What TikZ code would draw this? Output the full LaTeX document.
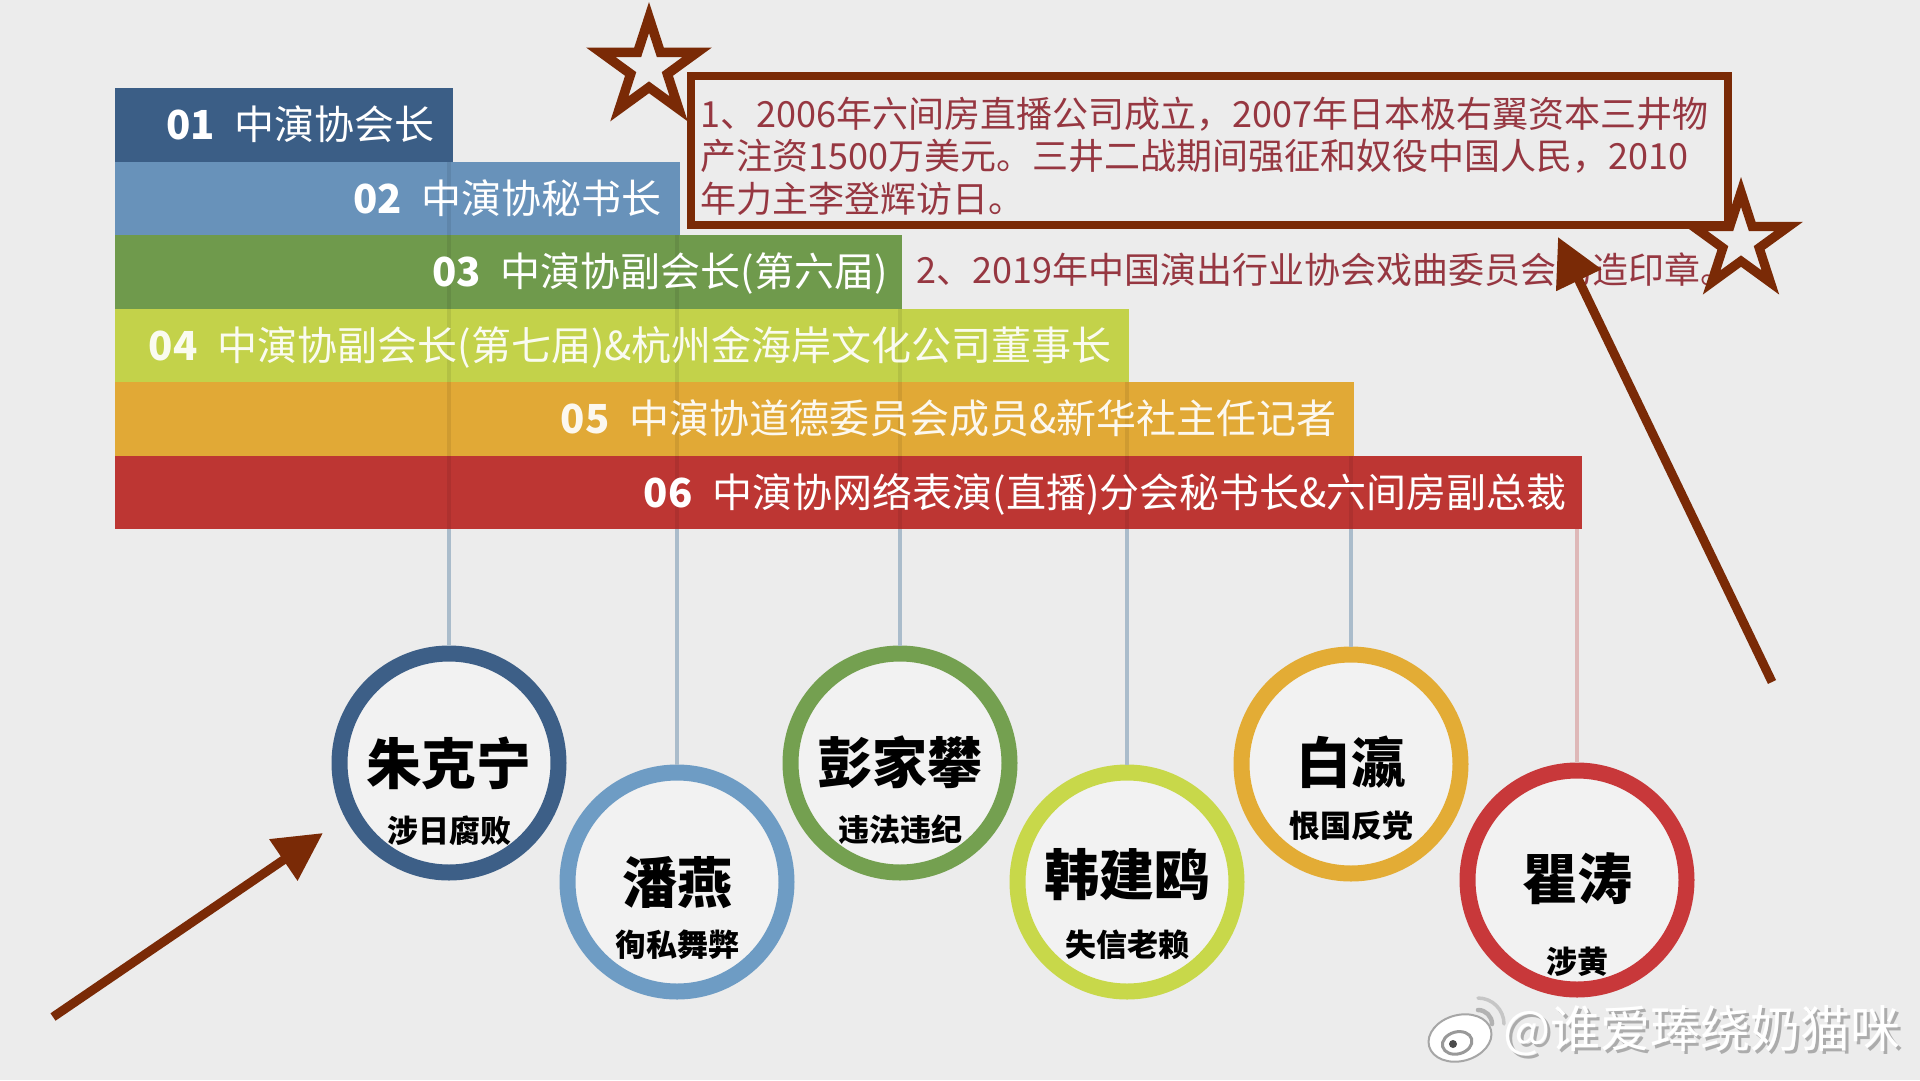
\documentclass[tikz,border=0pt]{standalone}
\usepackage{fontspec}
\setmainfont{Noto Sans CJK SC}
\usetikzlibrary{arrows.meta}
\definecolor{bg}{RGB}{236,236,236}
\definecolor{innerbg}{RGB}{242,242,242}
\definecolor{col1}{RGB}{59,94,134}
\definecolor{col2}{RGB}{104,146,186}
\definecolor{col3}{RGB}{111,154,76}
\definecolor{col4}{RGB}{195,210,74}
\definecolor{col5}{RGB}{225,169,54}
\definecolor{col6}{RGB}{189,54,51}
\definecolor{ring1}{RGB}{61,95,135}
\definecolor{ring2}{RGB}{110,156,196}
\definecolor{ring3}{RGB}{116,160,80}
\definecolor{ring4}{RGB}{200,216,74}
\definecolor{ring5}{RGB}{227,172,53}
\definecolor{ring6}{RGB}{200,56,58}
\definecolor{brn}{RGB}{122,42,6}
\definecolor{txtred}{RGB}{150,55,65}
\definecolor{vlinec}{RGB}{170,188,203}
\definecolor{vlinesix}{RGB}{222,184,184}
\begin{document}
\begin{tikzpicture}[x=1pt,y=-1pt,
  bar/.style={anchor=north west, inner sep=0pt, outer sep=0pt, minimum height=73.5pt, draw=none},
  bartext/.style={anchor=base east, text=white, inner sep=0pt, font=\fontsize{40}{46}\selectfont},
  ring/.style={circle, line width=16pt, fill=innerbg, minimum size=219pt, inner sep=0pt},
  pname/.style={anchor=base, text=black, inner sep=0pt, font=\fontsize{55}{60}\selectfont\bfseries},
  psub/.style={anchor=base, text=black, inner sep=0pt, font=\fontsize{31}{36}\selectfont\bfseries},
  inbar/.style={line width=4pt, black, opacity=0.08},
  vline/.style={line width=4.5pt, vlinec},
  boxtext/.style={anchor=base west, text=txtred, inner sep=0pt, font=\fontsize{36}{43}\selectfont},
  bigarrow/.style={line width=9pt, brn, -{Triangle[length=48pt,width=48pt]}},
  wm/.style={anchor=west, inner sep=0pt, font=\fontsize{50}{56}\selectfont}
]
\useasboundingbox (0,0) rectangle (1920,1080);
\fill[bg] (0,0) rectangle (1920,1080);

% bars
\node[bar, fill=col1, minimum width=338pt] (bar1) at (115,88) {};
\node[bar, fill=col2, minimum width=565pt] (bar2) at (115,161.5) {};
\node[bar, fill=col3, minimum width=787pt] (bar3) at (115,235) {};
\node[bar, fill=col4, minimum width=1014pt] (bar4) at (115,308.5) {};
\node[bar, fill=col5, minimum width=1239pt] (bar5) at (115,382) {};
\node[bar, fill=col6, minimum width=1467pt] (bar6) at (115,455.5) {};

% circles
\node[ring, draw=ring1] (c1) at (449,763) {};
\node[ring, draw=ring2] (c2) at (677,882) {};
\node[ring, draw=ring3] (c3) at (900,763) {};
\node[ring, draw=ring4] (c4) at (1127,882) {};
\node[ring, draw=ring5] (c5) at (1351,764) {};
\node[ring, draw=ring6] (c6) at (1577,880) {};

% hanging lines
\draw[inbar] (c1.north |- bar1.south) -- (c1.north |- bar6.south);
\draw[inbar] (c2.north |- bar2.south) -- (c2.north |- bar6.south);
\draw[inbar] (c3.north |- bar3.south) -- (c3.north |- bar6.south);
\draw[inbar] (c4.north |- bar4.south) -- (c4.north |- bar6.south);
\draw[inbar] (c5.north |- bar5.south) -- (c5.north |- bar6.south);
\draw[vline] (c1.north |- bar6.south) -- (c1.north);
\draw[vline] (c2.north |- bar6.south) -- (c2.north);
\draw[vline] (c3.north |- bar6.south) -- (c3.north);
\draw[vline] (c4.north |- bar6.south) -- (c4.north);
\draw[vline] (c5.north |- bar6.south) -- (c5.north);
\draw[vline, vlinesix] (c6.north |- bar6.south) -- (c6.north);

% bar texts
\node[bartext] (t1) at ([xshift=-18pt,yshift=-15pt]bar1.east) {{\bfseries 01}\hspace{0.5em}中演协会长};
\node[bartext] (t2) at ([xshift=-18pt,yshift=-15pt]bar2.east) {{\bfseries 02}\hspace{0.5em}中演协秘书长};
\node[bartext] (t3) at ([xshift=-14pt,yshift=-15pt]bar3.east) {{\bfseries 03}\hspace{0.5em}中演协副会长(第六届)};
\node[bartext, opacity=0.92] (t4) at ([xshift=-17pt,yshift=-15pt]bar4.east) {{\bfseries 04}\hspace{0.5em}中演协副会长(第七届)\&杭州金海岸文化公司董事长};
\node[bartext, opacity=0.92] (t5) at ([xshift=-17pt,yshift=-15pt]bar5.east) {{\bfseries 05}\hspace{0.5em}中演协道德委员会成员\&新华社主任记者};
\node[bartext] (t6) at ([xshift=-15pt,yshift=-15pt]bar6.east) {{\bfseries 06}\hspace{0.5em}中演协网络表演(直播)分会秘书长\&六间房副总裁};

% circle texts
\node[pname] (n1) at (449,784) {朱克宁};
\node[psub]  (s1) at (449,842) {涉日腐败};
\node[pname] (n2) at (677,903) {潘燕};
\node[psub]  (s2) at (677,956) {徇私舞弊};
\node[pname] (n3) at (900,783) {彭家攀};
\node[psub]  (s3) at (900,841) {违法违纪};
\node[pname] (n4) at (1127,895) {韩建鸥};
\node[psub]  (s4) at (1127,956) {失信老赖};
\node[pname] (n5) at (1351,783) {白瀛};
\node[psub]  (s5) at (1351,837) {恨国反党};
\node[pname] (n6) at (1577,899) {瞿涛};
\node[psub]  (s6) at (1577,973) {涉黄};

% star 1 (behind the box)
\fill[brn, even odd rule, shift={(649,68)}]
  (90:66pt) -- (126:25.2pt) -- (162:66pt) -- (198:25.2pt) -- (234:66pt) -- (270:25.2pt) -- (306:66pt) -- (342:25.2pt) -- (18:66pt) -- (54:25.2pt) -- cycle
  (90:35pt) -- (126:13.4pt) -- (162:35pt) -- (198:13.4pt) -- (234:35pt) -- (270:13.4pt) -- (306:35pt) -- (342:13.4pt) -- (18:35pt) -- (54:13.4pt) -- cycle;

% text box
\node[draw=brn, line width=8pt, fill=bg, minimum width=1037pt, minimum height=149pt, anchor=north west, inner sep=0pt] (box) at (687,72) {};
\node[boxtext] (bt1) at (700,127) {1、2006年六间房直播公司成立，2007年日本极右翼资本三井物};
\node[boxtext] (bt2) at (700,169.5) {产注资1500万美元。三井二战期间强征和奴役中国人民，2010};
\node[boxtext] (bt3) at (700,212) {年力主李登辉访日。};
\node[boxtext] (bt4) at (916,283) {2、2019年中国演出行业协会戏曲委员会伪造印章。};

% star 2
\fill[brn, even odd rule, shift={(1741,242)}]
  (90:65pt) -- (126:24.8pt) -- (162:65pt) -- (198:24.8pt) -- (234:65pt) -- (270:24.8pt) -- (306:65pt) -- (342:24.8pt) -- (18:65pt) -- (54:24.8pt) -- cycle
  (90:35pt) -- (126:13.4pt) -- (162:35pt) -- (198:13.4pt) -- (234:35pt) -- (270:13.4pt) -- (306:35pt) -- (342:13.4pt) -- (18:35pt) -- (54:13.4pt) -- cycle;

% arrows
\coordinate (a1s) at (53,1017);
\coordinate (a1e) at (323,833);
\draw[bigarrow] (a1s) -- (a1e);
\coordinate (a2s) at (1772,682);
\coordinate (a2e) at (1558,237);
\draw[bigarrow] (a2s) -- (a2e);

% watermark logo
\begin{scope}[shift={(1460,1038)}]
  \draw[gray!70, fill=white, line width=2pt, rotate=15] (0,0) ellipse (32pt and 23pt);
  \draw[gray!80, line width=3pt, rotate=15] (-4,4) ellipse (15pt and 11pt);
  \fill[gray!60!black] (-7,6) circle (4pt);
  \draw[gray!60, line width=4.5pt, line cap=round] (32,-14) arc (0:90:14pt);
  \draw[gray!45, line width=3.5pt, line cap=round] (44,-14) arc (0:90:26pt);
\end{scope}
\node[wm, text=gray!65] (wm1) at (1506,1034) {@谁爱琫绕奶猫咪};
\node[wm, text=white] (wm2) at (1503,1031) {@谁爱琫绕奶猫咪};
\end{tikzpicture}
\end{document}
